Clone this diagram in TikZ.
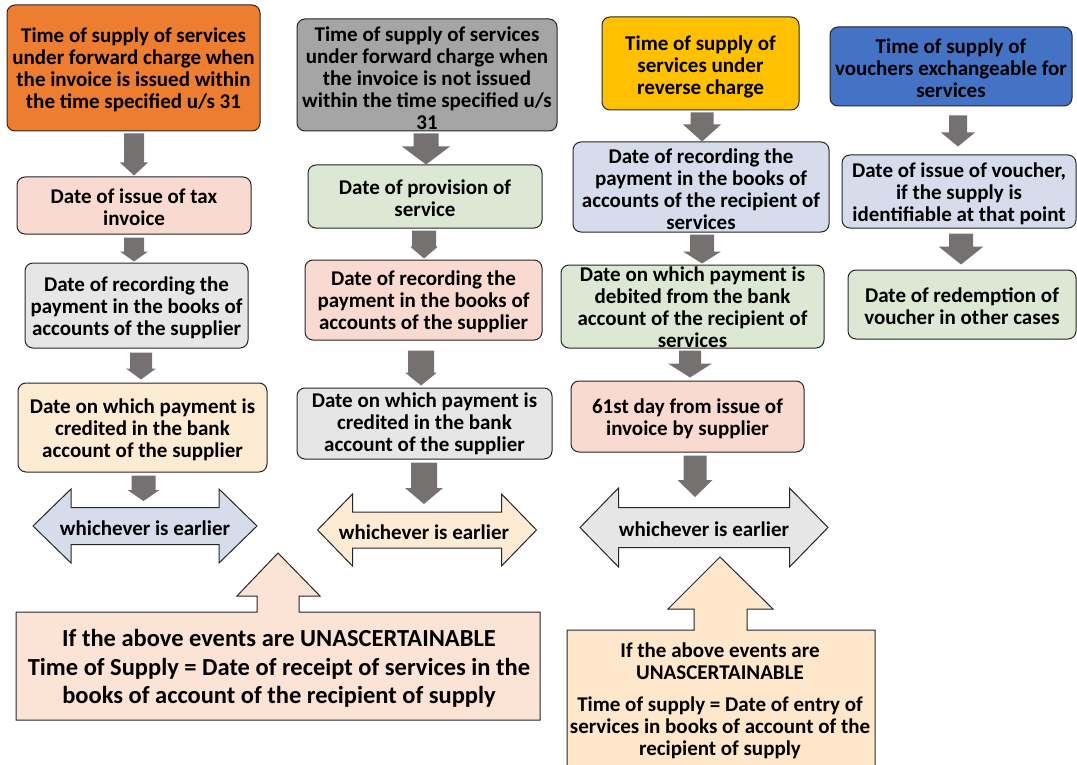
\documentclass[tikz,border=0pt]{standalone}
\usepackage{fontspec}
\setmainfont{Carlito}
\usetikzlibrary{calc}
\definecolor{boxline}{HTML}{262626}
\definecolor{arrowgray}{HTML}{767171}
\definecolor{orangeA}{HTML}{ED7D31}
\definecolor{grayA}{HTML}{A5A5A5}
\definecolor{goldA}{HTML}{FFC000}
\definecolor{blueA}{HTML}{4472C4}
\definecolor{pinkL}{HTML}{F8DAD0}
\definecolor{grayL}{HTML}{E7E6E6}
\definecolor{peachL}{HTML}{FEEBD3}
\definecolor{greenL}{HTML}{DCE7D4}
\definecolor{blueL}{HTML}{D6DCEC}
\definecolor{calloutA}{HTML}{FBE4D6}
\definecolor{calloutB}{HTML}{FFE7CC}
\tikzset{
  box/.style={draw=boxline, line width=1pt, rounded corners=8pt, inner sep=0pt},
  txt/.style={align=center, font=\bfseries\fontsize{21}{22}\selectfont, inner sep=0pt, text=black, yshift=-2pt},
  bigtxt/.style={align=center, font=\bfseries\fontsize{24.5}{28.5}\selectfont, inner sep=0pt, text=black, yshift=-2pt},
  outl/.style={draw=boxline, line width=1pt},
}
% block arrow: from, to, half shaft, half head, head length
\newcommand\barrow[5]{%
  \fill[arrowgray] let \p1=(#1), \p2=(#2) in
  (\x1-#3pt,\y1) -- (\x1+#3pt,\y1) -- (\x1+#3pt,\y2+#5pt) -- (\x1+#4pt,\y2+#5pt)
  -- (\x1,\y2) -- (\x1-#4pt,\y2+#5pt) -- (\x1-#3pt,\y2+#5pt) -- cycle;}
% double arrow around a centre: centre, half length, half shaft, half head, head length, fill
\newcommand\dblarrow[6]{%
  \draw[outl, fill=#6] let \p1=(#1) in
  (\x1-#2pt,\y1) -- (\x1-#2pt+#5pt,\y1+#4pt) -- (\x1-#2pt+#5pt,\y1+#3pt)
  -- (\x1+#2pt-#5pt,\y1+#3pt) -- (\x1+#2pt-#5pt,\y1+#4pt) -- (\x1+#2pt,\y1)
  -- (\x1+#2pt-#5pt,\y1-#4pt) -- (\x1+#2pt-#5pt,\y1-#3pt)
  -- (\x1-#2pt+#5pt,\y1-#3pt) -- (\x1-#2pt+#5pt,\y1-#4pt) -- cycle;}
\begin{document}
\begin{tikzpicture}[x=1pt,y=-1pt]
\useasboundingbox (0,0) rectangle (1077,765);
\fill[white] (0,0) rectangle (1077,765);

% ---------- column 1 ----------
\node[box, fill=orangeA, minimum width=253pt, minimum height=126pt] (a1) at (133.5,68) {};
\node[txt] (a1t) at (a1.center) {Time of supply of services\\under forward charge when\\the invoice is issued within\\the time specified u/s 31};
\node[box, fill=pinkL, minimum width=234pt, minimum height=57pt] (b1) at (134,205.5) {};
\node[txt] (b1t) at (b1.center) {Date of issue of tax\\invoice};
\node[box, fill=grayL, minimum width=223pt, minimum height=85pt] (c1) at (136.5,305.5) {};
\node[txt] (c1t) at (c1.center) {Date of recording the\\payment in the books of\\accounts of the supplier};
\node[box, fill=peachL, minimum width=249pt, minimum height=89pt] (d1) at (142.5,427.5) {};
\node[txt] (d1t) at (d1.center) {Date on which payment is\\credited in the bank\\account of the supplier};
\coordinate (e1c) at (145,526);
\dblarrow{e1c}{112}{18.5}{37}{38}{blueL}
\node[txt] (e1) at (e1c) {whichever is earlier};

% ---------- column 2 ----------
\node[box, fill=grayA, minimum width=260pt, minimum height=112pt] (a2) at (427,75) {};
\node[txt] (a2t) at ([yshift=-1pt]a2.center) {Time of supply of services\\under forward charge when\\the invoice is not issued\\within the time specified u/s\\31};
\node[box, fill=greenL, minimum width=234pt, minimum height=63pt] (b2) at (425,196.5) {};
\node[txt] (b2t) at (b2.center) {Date of provision of\\service};
\node[box, fill=pinkL, minimum width=237pt, minimum height=80pt] (c2) at (423.5,300) {};
\node[txt] (c2t) at (c2.center) {Date of recording the\\payment in the books of\\accounts of the supplier};
\node[box, fill=grayL, minimum width=255pt, minimum height=71pt] (d2) at (424.5,423.5) {};
\node[txt] (d2t) at ([yshift=1.5pt]d2.center) {Date on which payment is\\credited in the bank\\account of the supplier};
\coordinate (e2c) at (427,530);
\dblarrow{e2c}{109.5}{18}{36}{35}{peachL}
\node[txt] (e2) at ([xshift=-3pt]e2c) {whichever is earlier};

% ---------- column 3 ----------
\node[box, fill=goldA, minimum width=197pt, minimum height=93pt] (a3) at (700.5,63.5) {};
\node[txt] (a3t) at ([yshift=-1.5pt]a3.center) {Time of supply of\\services under\\reverse charge};
\node[box, fill=blueL, minimum width=256pt, minimum height=90pt] (b3) at (701,187) {};
\node[txt] (b3t) at (b3.center) {Date of recording the\\payment in the books of\\accounts of the recipient of\\services};
\node[box, fill=greenL, minimum width=263pt, minimum height=83pt] (c3) at (692.5,306.5) {};
\node[txt] (c3t) at ([yshift=1pt]c3.center) {Date on which payment is\\debited from the bank\\account of the recipient of\\services};
\node[box, fill=pinkL, minimum width=233pt, minimum height=71pt] (d3) at (687.5,416.5) {};
\node[txt] (d3t) at (d3.center) {61st day from issue of\\invoice by supplier};
\coordinate (e3c) at (704,527.5);
\dblarrow{e3c}{124}{20}{39.5}{38.5}{grayL}
\node[txt] (e3) at (e3c) {whichever is earlier};

% ---------- column 4 ----------
\node[box, fill=blueA, minimum width=242pt, minimum height=79pt] (a4) at (951,66.5) {};
\node[txt] (a4t) at (a4.center) {Time of supply of\\vouchers exchangeable for\\services};
\node[box, fill=blueL, minimum width=234pt, minimum height=73pt] (b4) at (959,191.5) {};
\node[txt] (b4t) at (b4.center) {Date of issue of voucher,\\if the supply is\\identifiable at that point};
\node[box, fill=greenL, minimum width=228pt, minimum height=69pt] (c4) at (962,304.5) {};
\node[txt] (c4t) at (c4.center) {Date of redemption of\\voucher in other cases};

% ---------- block arrows ----------
\barrow{[xshift=0.5pt,yshift=-2pt]a1.south}{[yshift=1pt]b1.north}{10}{14}{13}
\barrow{[yshift=-3pt]b1.south}{[yshift=1pt]c1.north}{10}{14}{10}
\barrow{[xshift=4.5pt,yshift=-4pt]c1.south}{[yshift=3pt]d1.north}{11}{15}{11}
\barrow{[xshift=1pt,yshift=-3pt]d1.south}{[yshift=25pt]e1c}{12}{16}{11}
\barrow{[xshift=-1pt,yshift=-2pt]a2.south}{b2.north}{12.5}{24}{18}
\barrow{[xshift=-1pt,yshift=-2pt]b2.south}{[yshift=1pt]c2.north}{12}{14}{12}
\barrow{[xshift=-2.5pt,yshift=-10pt]c2.south}{[yshift=2pt]d2.north}{13}{16}{13}
\barrow{[xshift=-0.5pt,yshift=-3pt]d2.south}{[yshift=26pt]e2c}{13}{19}{16}
\barrow{[xshift=1.5pt,yshift=-2pt]a3.south}{b3.north}{11.5}{19}{17}
\barrow{[xshift=1pt,yshift=-2pt]b3.south}{[yshift=1pt]c3.north}{12}{19}{12}
\barrow{[xshift=-2.5pt,yshift=-2pt]c3.south}{[yshift=3pt]d3.north}{11}{22}{14}
\barrow{[xshift=7.5pt,yshift=-3pt]d3.south}{[yshift=30.5pt]e3c}{11.5}{17.5}{17}
\barrow{[xshift=7pt,yshift=-9pt]a4.south}{[yshift=8pt]b4.north}{9}{17}{14}
\barrow{[xshift=2pt,yshift=-5pt]b4.south}{[yshift=5pt]c4.north}{12}{22.5}{18}

% ---------- bottom callouts ----------
\draw[outl, fill=calloutA] (16,612) -- (257,612) -- (257,596) -- (237,596) -- (278,553)
  -- (320,596) -- (299,596) -- (299,612) -- (540,612) -- (540,720) -- (16,720) -- cycle;
\node[bigtxt] (f1) at (279,666.5) {If the above events are UNASCERTAINABLE\\Time of Supply = Date of receipt of services in the\\books of account of the recipient of supply};
\draw[outl, fill=calloutB] (567,630) -- (694,630) -- (694,609) -- (668,609) -- (720,557)
  -- (773,609) -- (747,609) -- (747,630) -- (875,630) -- (875,772) -- (567,772) -- cycle;
\node[txt] (f2) at (720,698.5) {If the above events are\\UNASCERTAINABLE\\[10pt]Time of supply = Date of entry of\\services in books of account of the\\recipient of supply};
\end{tikzpicture}
\end{document}
